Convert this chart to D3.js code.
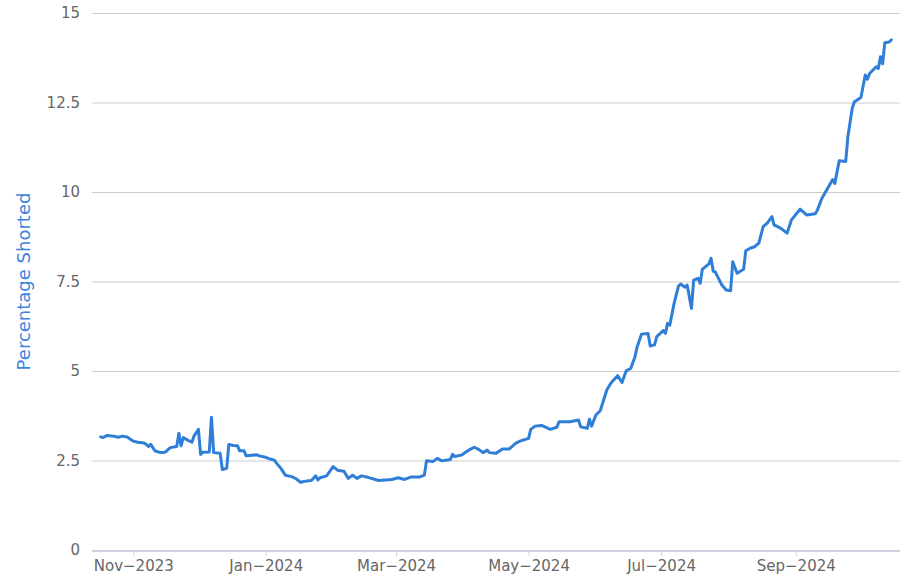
<!DOCTYPE html>
<html>
<head>
<meta charset="utf-8">
<script src="https://cdn.jsdelivr.net/npm/d3@7/dist/d3.min.js"></script>
<style>
  html, body { margin: 0; padding: 0; background: #fff; }
  #chart { width: 918px; height: 582px; }
  text { font-family: "DejaVu Sans", Verdana, sans-serif; }
</style>
</head>
<body>
<div id="chart"></div>
<script>
// Short interest – percentage of float shorted, daily-ish readings
const dates = [
  "2023-10-17","2023-10-18","2023-10-20","2023-10-23","2023-10-25","2023-10-27","2023-10-29","2023-10-30",
  "2023-11-01","2023-11-03","2023-11-06","2023-11-07","2023-11-08","2023-11-09","2023-11-11","2023-11-13",
  "2023-11-15","2023-11-16","2023-11-18","2023-11-21","2023-11-22","2023-11-23","2023-11-24","2023-11-26",
  "2023-11-28","2023-11-29","2023-12-01","2023-12-02","2023-12-03","2023-12-06","2023-12-07","2023-12-08",
  "2023-12-11","2023-12-12","2023-12-14","2023-12-15","2023-12-17","2023-12-19","2023-12-20","2023-12-22",
  "2023-12-23","2023-12-28","2023-12-29","2024-01-01","2024-01-03","2024-01-05","2024-01-06","2024-01-08",
  "2024-01-10","2024-01-13","2024-01-15","2024-01-17","2024-01-20","2024-01-22","2024-01-24","2024-01-25",
  "2024-01-26","2024-01-29","2024-02-01","2024-02-03","2024-02-06","2024-02-08","2024-02-10","2024-02-12",
  "2024-02-14","2024-02-17","2024-02-22","2024-02-28","2024-03-02","2024-03-05","2024-03-08","2024-03-12",
  "2024-03-14","2024-03-15","2024-03-18","2024-03-20","2024-03-22","2024-03-26","2024-03-27","2024-03-28",
  "2024-03-31","2024-04-03","2024-04-04","2024-04-06","2024-04-08","2024-04-10","2024-04-12","2024-04-13",
  "2024-04-16","2024-04-19","2024-04-22","2024-04-25","2024-04-27","2024-05-01","2024-05-02","2024-05-04",
  "2024-05-07","2024-05-11","2024-05-14","2024-05-15","2024-05-20","2024-05-24","2024-05-25","2024-05-28",
  "2024-05-29","2024-05-30","2024-06-01","2024-06-03","2024-06-06","2024-06-08","2024-06-11","2024-06-13",
  "2024-06-15","2024-06-17","2024-06-19","2024-06-20","2024-06-22","2024-06-25","2024-06-26","2024-06-28",
  "2024-06-29","2024-07-02","2024-07-03","2024-07-04","2024-07-05","2024-07-07","2024-07-09","2024-07-10",
  "2024-07-12","2024-07-13","2024-07-15","2024-07-16","2024-07-18","2024-07-19","2024-07-20","2024-07-23",
  "2024-07-24","2024-07-25","2024-07-26","2024-07-29","2024-07-31","2024-08-02","2024-08-03","2024-08-05",
  "2024-08-08","2024-08-09","2024-08-11","2024-08-13","2024-08-15","2024-08-17","2024-08-19","2024-08-21",
  "2024-08-22","2024-08-25","2024-08-28","2024-08-30","2024-09-03","2024-09-06","2024-09-10","2024-09-11",
  "2024-09-13","2024-09-18","2024-09-19","2024-09-21","2024-09-24","2024-09-25","2024-09-27","2024-09-28",
  "2024-10-01","2024-10-03","2024-10-04","2024-10-05","2024-10-08","2024-10-09","2024-10-10","2024-10-11",
  "2024-10-12","2024-10-14","2024-10-15"
];
const shorted = [
  3.16,3.14,3.20,3.18,3.15,3.18,3.16,3.12,
  3.04,3.01,2.99,2.95,2.89,2.95,2.77,2.73,
  2.72,2.75,2.86,2.89,3.26,2.91,3.14,3.07,
  3.01,3.19,3.37,2.67,2.73,2.74,3.71,2.72,
  2.70,2.25,2.28,2.95,2.92,2.91,2.77,2.77,
  2.63,2.66,2.63,2.59,2.54,2.51,2.42,2.28,
  2.09,2.05,1.99,1.89,1.93,1.94,2.07,1.96,
  2.02,2.07,2.33,2.23,2.20,2.00,2.09,2.00,
  2.07,2.03,1.94,1.97,2.02,1.97,2.04,2.04,
  2.09,2.49,2.47,2.56,2.49,2.53,2.67,2.61,
  2.65,2.77,2.81,2.87,2.81,2.72,2.79,2.72,
  2.70,2.82,2.82,2.98,3.04,3.12,3.37,3.46,
  3.48,3.37,3.43,3.58,3.58,3.63,3.44,3.40,
  3.65,3.46,3.77,3.89,4.47,4.67,4.87,4.68,
  5.01,5.07,5.40,5.68,6.03,6.05,5.70,5.73,
  5.96,6.13,6.05,6.33,6.28,6.89,7.37,7.43,
  7.34,7.40,6.75,7.54,7.59,7.45,7.84,7.99,
  8.15,7.79,7.76,7.40,7.26,7.24,8.05,7.73,
  7.84,8.36,8.43,8.47,8.57,9.03,9.14,9.31,
  9.08,8.99,8.85,9.22,9.52,9.36,9.39,9.50,
  9.82,10.35,10.24,10.87,10.85,11.54,12.34,12.52,
  12.64,13.27,13.15,13.31,13.50,13.45,13.78,13.58,
  14.17,14.19,14.25
];
const yTicks = [0, 2.5, 5, 7.5, 10, 12.5, 15];
const xTickDates = ["2023-11-01","2024-01-01","2024-03-01","2024-05-01","2024-07-01","2024-09-01"];
const yTitle = "Percentage Shorted";

const parse = d3.timeParse("%Y-%m-%d");
const data = dates.map((d, i) => ({ date: parse(d), value: shorted[i] }));

const width = 918, height = 582;
const margin = { top: 13, right: 18, bottom: 32, left: 92 };

const x = d3.scaleTime()
  .domain([parse("2023-10-13"), parse("2024-10-19")])
  .range([margin.left, width - margin.right]);

const y = d3.scaleLinear()
  .domain([0, 15])
  .range([height - margin.bottom, margin.top]);

const svg = d3.select("#chart").append("svg")
  .attr("width", width).attr("height", height);

// grid + y labels
svg.append("g")
  .attr("transform", `translate(${margin.left},0)`)
  .call(d3.axisLeft(y).tickValues(yTicks)
    .tickSize(-(width - margin.left - margin.right))
    .tickPadding(12)
    .tickFormat(d => d3.format("~g")(d)))
  .call(g => g.select(".domain").remove())
  .call(g => g.selectAll(".tick line").attr("stroke", "#cccccc").attr("stroke-width", 1))
  .call(g => g.selectAll(".tick text")
    .attr("fill", "#666").attr("font-size", 15)
    .attr("font-family", "DejaVu Sans, sans-serif"));

// x axis
const fmtMonth = d3.timeFormat("%b");
const fmtYear = d3.timeFormat("%Y");
svg.append("g")
  .attr("transform", `translate(0,${height - margin.bottom + 1})`)
  .call(d3.axisBottom(x).tickValues(xTickDates.map(parse))
    .tickSize(5).tickPadding(4)
    .tickFormat(d => fmtMonth(d) + "\u2212" + fmtYear(d)))
  .call(g => g.select(".domain").attr("stroke", "#ccd6eb")
    .attr("d", `M${margin.left},0.5H${width - margin.right}`))
  .call(g => g.selectAll(".tick line").attr("stroke", "#ccd6eb"))
  .call(g => g.selectAll(".tick text")
    .attr("fill", "#666").attr("font-size", 15)
    .attr("font-family", "DejaVu Sans, sans-serif"));

// y title
svg.append("text")
  .attr("transform", `translate(30,${(margin.top + height - margin.bottom) / 2}) rotate(-90)`)
  .attr("text-anchor", "middle")
  .attr("font-size", 18)
  .attr("fill", "#3f84db")
  .text(yTitle);

// line
const line = d3.line()
  .x(d => x(d.date))
  .y(d => y(d.value));

svg.append("path")
  .datum(data)
  .attr("fill", "none")
  .attr("stroke", "#2f7ed8")
  .attr("stroke-width", 3)
  .attr("stroke-linejoin", "round")
  .attr("stroke-linecap", "round")
  .attr("d", line);
</script>
</body>
</html>
